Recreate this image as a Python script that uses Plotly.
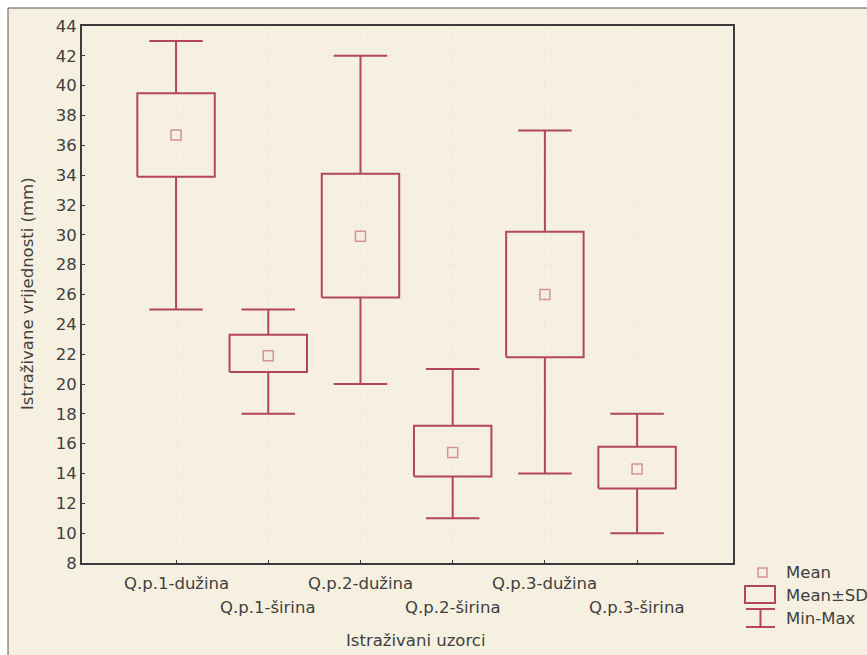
import plotly.graph_objects as go

categories = ["Q.p.1-dužina", "Q.p.1-širina", "Q.p.2-dužina", "Q.p.2-širina", "Q.p.3-dužina", "Q.p.3-širina"]
means = [36.7, 21.9, 29.9, 15.4, 26.0, 14.3]
sd_low = [33.9, 20.8, 25.8, 13.8, 21.8, 13.0]
sd_high = [39.5, 23.3, 34.1, 17.2, 30.2, 15.8]
mins = [25, 18, 20, 11, 14, 10]
maxs = [43, 25, 42, 21, 37, 18]
y_ticks = list(range(8, 45, 2))

LINE = "#b3475a"
MEAN_C = "#d4939a"
TXT = "#404040"
FONT = "DejaVu Sans, sans-serif"
FS = 16.5

W, H = 867, 655
L, R, T, B = 82, 733, 26, 563

def px(x):
    return (x - L) / (R - L)

def py(y):
    return (B - y) / (B - T)

box_half = 0.42
cap_half = 0.29

bx, by, wx, wy = [], [], [], []
for i in range(len(categories)):
    bx += [i - box_half, i + box_half, i + box_half, i - box_half, i - box_half, None]
    by += [sd_low[i], sd_low[i], sd_high[i], sd_high[i], sd_low[i], None]
    wx += [i, i, None, i - cap_half, i + cap_half, None]
    wy += [sd_high[i], maxs[i], None, maxs[i], maxs[i], None]
    wx += [i, i, None, i - cap_half, i + cap_half, None]
    wy += [sd_low[i], mins[i], None, mins[i], mins[i], None]

fig = go.Figure()
fig.add_trace(go.Scatter(x=wx, y=wy, mode="lines", line=dict(color=LINE, width=2),
                         hoverinfo="skip", showlegend=False))
fig.add_trace(go.Scatter(x=bx, y=by, mode="lines", line=dict(color=LINE, width=2),
                         hoverinfo="skip", showlegend=False))
fig.add_trace(go.Scatter(x=list(range(len(categories))), y=means, mode="markers",
                         marker=dict(symbol="square-open", size=10, color=MEAN_C, line=dict(width=1.5)),
                         showlegend=False))

shapes = []
shapes.append(dict(type="rect", xref="paper", yref="paper", layer="below",
                   x0=px(8), x1=px(880), y0=py(680), y1=py(8),
                   fillcolor="#f6f0e1", line=dict(color="#555555", width=1)))
shapes.append(dict(type="rect", xref="paper", yref="paper",
                   x0=px(745), x1=px(775), y0=py(603), y1=py(586),
                   line=dict(color=LINE, width=2), fillcolor="rgba(0,0,0,0)"))
shapes.append(dict(type="line", xref="paper", yref="paper",
                   x0=px(746), x1=px(775), y0=py(609), y1=py(609), line=dict(color=LINE, width=2)))
shapes.append(dict(type="line", xref="paper", yref="paper",
                   x0=px(746), x1=px(775), y0=py(627), y1=py(627), line=dict(color=LINE, width=2)))
shapes.append(dict(type="line", xref="paper", yref="paper",
                   x0=px(760.5), x1=px(760.5), y0=py(609), y1=py(627), line=dict(color=LINE, width=2)))
shapes.append(dict(type="rect", xref="paper", yref="paper",
                   x0=px(758), x1=px(767), y0=py(577), y1=py(568),
                   line=dict(color=MEAN_C, width=1.5), fillcolor="rgba(0,0,0,0)"))

annotations = []
for i, c in enumerate(categories):
    annotations.append(dict(x=i, xref="x", y=py(583 if i % 2 == 0 else 607), yref="paper",
                            text=c, showarrow=False, xanchor="center", yanchor="middle",
                            font=dict(family=FONT, size=FS, color=TXT)))
annotations.append(dict(x=px(416), xref="paper", y=py(640), yref="paper", text="Istraživani uzorci",
                        showarrow=False, xanchor="center", yanchor="middle",
                        font=dict(family=FONT, size=FS, color=TXT)))
annotations.append(dict(x=px(27), xref="paper", y=py(294), yref="paper",
                        text="Istraživane vrijednosti (mm)", textangle=-90,
                        showarrow=False, xanchor="center", yanchor="middle",
                        font=dict(family=FONT, size=FS, color=TXT)))
for txt, yy in [("Mean", 572), ("Mean±SD", 595), ("Min-Max", 619)]:
    annotations.append(dict(x=px(784), xref="paper", y=py(yy), yref="paper", text=txt,
                            showarrow=False, xanchor="left", yanchor="middle",
                            font=dict(family=FONT, size=FS, color=TXT)))

fig.update_layout(
    width=W, height=H,
    margin=dict(l=L, r=W - R, t=T, b=H - B),
    paper_bgcolor="white",
    plot_bgcolor="#fffdf5",
    shapes=shapes,
    annotations=annotations,
    showlegend=False,
    xaxis=dict(range=[-1.02, 6.04], tickvals=list(range(len(categories))), ticktext=[""] * len(categories),
               showgrid=True, gridcolor="#efe8da", gridwidth=1, griddash="dot",
               zeroline=False, showline=True, linecolor="#3c3c3c", linewidth=2, mirror=True,
               ticks="inside", ticklen=3, tickcolor="#3c3c3c"),
    yaxis=dict(range=[8, 44], tickvals=y_ticks, ticktext=[str(v) for v in y_ticks],
               showgrid=True, gridcolor="#efe8da", gridwidth=1, griddash="dot",
               zeroline=False, showline=True, linecolor="#3c3c3c", linewidth=2, mirror=True,
               ticks="inside", ticklen=3, tickcolor="#3c3c3c",
               tickfont=dict(family=FONT, size=FS, color=TXT)),
)

fig.write_html("out.html")
